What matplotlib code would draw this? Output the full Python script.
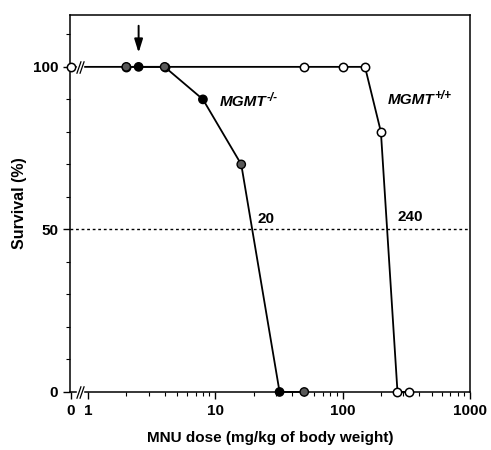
import numpy as np
import matplotlib.pyplot as plt
from matplotlib.path import Path

plt.rcParams['font.family'] = ['Liberation Sans', 'DejaVu Sans']
plt.rcParams['font.weight'] = 'bold'

# data (dose in mg/kg, survival in %)
ZERO = 0.735          # where dose 0 sits on the log axis
wt_dose = [ZERO, 2, 4, 50, 100, 150, 200, 270, 330]
wt_surv = [100, 100, 100, 100, 100, 100, 80, 0, 0]
ko_dose = [2, 2.5, 4, 8, 16, 32, 50]
ko_surv = [100, 100, 100, 90, 70, 0, 0]
ko_face = ['0.35', 'black', '0.35', 'black', '0.35', 'black', '0.35']

ld50_ko = 20
ld50_wt = 240

xticks = [ZERO, 1, 10, 100, 1000]
xticklabels = ['0', '1', '10', '100', '1000']


fig = plt.figure(figsize=(4.91, 4.5), dpi=100)
ax = fig.add_axes([0.1426, 0.129, 0.8144, 0.838])

ax.plot(wt_dose, wt_surv, color='black', lw=1.3, marker='o', ms=6,
        mfc='white', mec='black', mew=1.1, zorder=3, clip_on=False)
ax.plot(ko_dose, ko_surv, color='black', lw=1.3, zorder=3, clip_on=False)
ax.scatter(ko_dose, ko_surv, s=36, c=ko_face, edgecolors='black',
           linewidths=1.0, zorder=4, clip_on=False)

ax.axhline(50, color='black', lw=1.0, ls=(0, (2, 2)), zorder=2)

ax.set_xscale('log')
ax.set_xlim(0.723, 1000)
ax.set_ylim(0, 116)

ax.set_xticks(xticks)
ax.set_xticklabels(xticklabels)
minor = [m * 10**k for k in range(3) for m in range(2, 10)]
ax.set_xticks(minor, minor=True)
ax.set_xticklabels([], minor=True)
ax.set_yticks([0, 50, 100])
ax.set_yticks([10, 20, 30, 40, 60, 70, 80, 90, 110], minor=True)

ax.tick_params(axis='both', which='major', labelsize=11, width=1.0,
               length=5, direction='out')
ax.tick_params(axis='x', which='major', pad=4)
ax.tick_params(axis='both', which='minor', direction='out', length=3,
               width=0.8)
for lab in ax.get_xticklabels() + ax.get_yticklabels():
    lab.set_fontweight('bold')
for sp in ax.spines.values():
    sp.set_linewidth(1.1)

# axis breaks between 0 and 1
brk = Path([(-1.2, -2), (0.2, 2), (-0.2, -2), (1.2, 2)],
           [Path.MOVETO, Path.LINETO, Path.MOVETO, Path.LINETO])
for yb in (0, 100):
    ax.plot([0.865], [yb], marker='s', ms=5, mfc='white', mec='white',
            ls='none', zorder=5, clip_on=False)
    ax.plot([0.865], [yb], marker=brk, ms=9, mfc='none', mec='black',
            mew=0.9, ls='none', zorder=6, clip_on=False)

# arrow marking 2.5 mg/kg
ax.annotate('', xy=(2.5, 103.5), xytext=(2.5, 113.5),
            arrowprops=dict(arrowstyle='-|>,head_width=0.25,head_length=0.8',
                            color='black', lw=1.4))


def genotype(x, y, sup):
    t = ax.text(x, y, 'MGMT', fontsize=11, fontweight='bold',
                fontstyle='italic')
    ax.annotate(sup, xy=(1.0, 0.78), xycoords=t, fontsize=8.5,
                fontweight='bold', fontstyle='italic', va='center')


genotype(10.9, 88, '-/-')
genotype(227, 88.5, '+/+')
ax.text(21.3, 52, str(ld50_ko), fontsize=11, fontweight='bold')
ax.text(272, 52.5, str(ld50_wt), fontsize=11, fontweight='bold')

ax.set_ylabel('Survival (%)', fontsize=11.5, fontweight='bold', labelpad=4)
ax.set_xlabel('MNU dose (mg/kg of body weight)', fontsize=11,
              fontweight='bold', labelpad=9)

fig.savefig('out.png', dpi=100)
